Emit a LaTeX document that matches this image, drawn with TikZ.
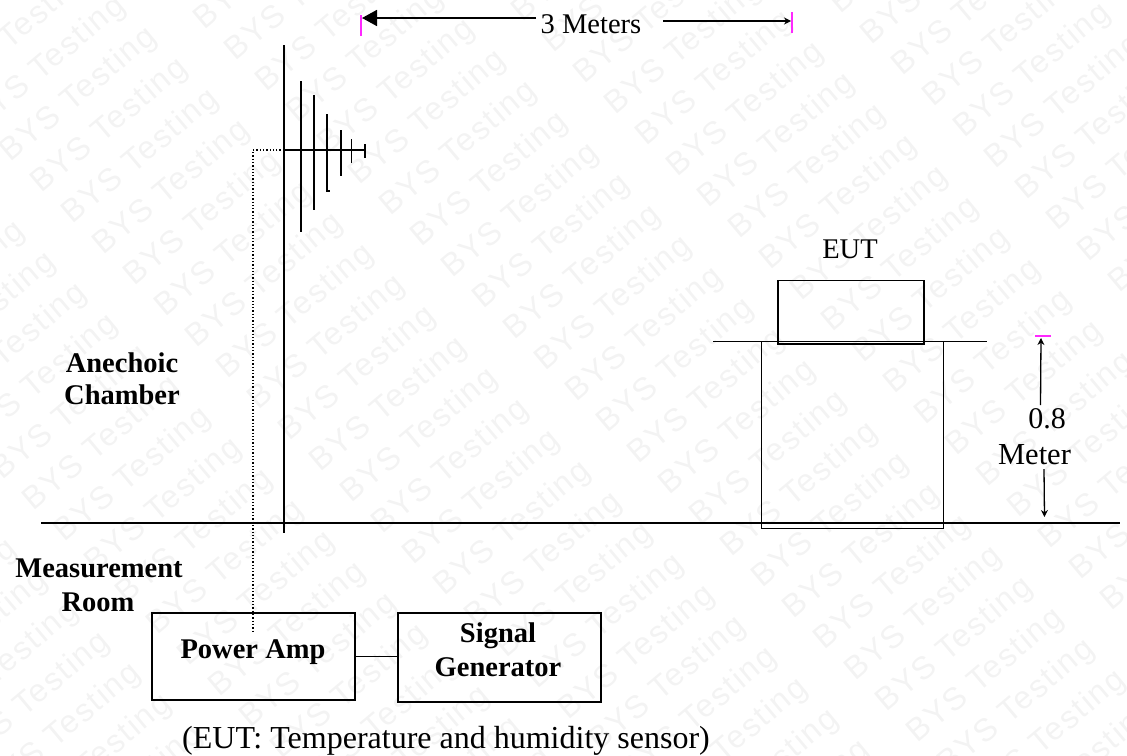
\documentclass[tikz,border=0pt]{standalone}
\usepackage{fontspec}
\setmainfont{Liberation Serif}
\newfontfamily\wmfont[LetterSpace=6]{Liberation Sans}
\usetikzlibrary{arrows.meta}
\definecolor{tickc}{RGB}{255,40,255}
\definecolor{wmc}{RGB}{243,243,243}
\tikzset{
  x=1pt,y=-1pt,
  wm/.style={text=wmc,rotate=40,inner sep=0pt,anchor=center,font=\wmfont\fontsize{32}{32}\selectfont},
  lab/.style={inner sep=0pt,anchor=base,font=\fontsize{28.5}{28.5}\selectfont},
  blab/.style={inner sep=0pt,anchor=base,font=\bfseries\fontsize{28.5}{28.5}\selectfont},
  boxn/.style={draw=black,line width=1.7pt,inner sep=0pt,anchor=north west},
  ant/.style={line width=2.4pt,black},
  antt/.style={line width=1.5pt,black},
  tick/.style={draw=tickc,line width=1.5pt},
  dim/.style={line width=1.3pt,-{Stealth[length=7pt,width=7pt]}},
  gnd/.style={line width=2pt,black},
}
\begin{document}
\begin{tikzpicture}
\useasboundingbox (0,0) rectangle (1127,755);
\begin{scope}
\clip (0,0) rectangle (1127,755);
\foreach \i in {-26,...,26}{
  \foreach \j in {-6,...,6}{
    \pgfmathsetmacro{\wx}{490+31*\i+163*\j}
    \pgfmathsetmacro{\wy}{180+31*\i-163*\j}
    \pgfmathtruncatemacro{\wok}{and(and(\wx>-90,\wx<1217),and(\wy>-70,\wy<825))}
    \ifnum\wok=1
      \node[wm] (w\i x\j) at (\wx,\wy) {BYS Testing};
    \fi
  }
}
\end{scope}

% top dimension
\coordinate (tl) at (361,15); \coordinate (tlb) at (361,36);
\coordinate (tr) at (792,12); \coordinate (trb) at (792,33);
\draw[tick] (tl) -- (tlb);
\draw[tick] (tr) -- (trb);
\node[lab] (three) at (591,33) {3 Meters};
\coordinate (al) at (536,18); \coordinate (alt) at (362,18);
\draw[line width=1.7pt,-{Triangle[length=15pt,width=16pt]}] (al) -- (alt);
\coordinate (ar) at (663,21); \coordinate (art) at (791,21);
\draw[dim] (ar) -- (art);

% mast and antenna
\coordinate (mt) at (284,45); \coordinate (mb) at (284,533);
\draw[ant] (mt) -- (mb);
\coordinate (boom) at (284,150); \coordinate (boomend) at (365,150);
\draw[ant] (boom) -- (boomend);
\draw[ant] (301,81) -- (301,232);
\draw[ant] (314,95) -- (314,210);
\draw[antt] (327,114) -- (327,191) -- (330,191);
\draw[ant] (341,130) -- (341,176);
\draw[antt] (351.5,139) -- (351.5,163);
\draw[antt] (365,144) -- (365,158);

% ground
\coordinate (gl) at (41,523); \coordinate (gr) at (1120,523);
\draw[gnd] (gl) -- (gr);

% table and EUT
\node[boxn,line width=1.4pt,minimum width=182pt,minimum height=187pt] (table) at (761,341) {};
\coordinate (tbl) at (713,341.5); \coordinate (tbr) at (987,341.5);
\draw[line width=1.4pt] (tbl) -- (tbr);
\node[boxn,line width=1.5pt,minimum width=146pt,minimum height=63pt] (eut) at (777,279.5) {};
\draw[line width=1.9pt] (eut.south west) -- (eut.south east);
\node[lab] (eutl) at (850,258) {EUT};

% height dimension
\draw[tick] (1035,336) -- (1051,336);
\node[lab,font=\fontsize{30}{30}\selectfont] (h1) at (1047,428) {0.8};
\node[lab,font=\fontsize{30.5}{30.5}\selectfont] (h2) at (1034.5,464) {Meter};
\coordinate (u1) at (1040.5,405); \coordinate (u2) at (1041,338);
\draw[dim] (u1) -- (u2);
\coordinate (d1) at (1044,469); \coordinate (d2) at (1044.5,517);
\draw[dim] (d1) -- (d2);

% boxes
\node[boxn,minimum width=203pt,minimum height=87pt] (pa) at (151,612) {};
\node[boxn,minimum width=203pt,minimum height=89pt] (sg) at (397,612) {};
\draw[line width=1.6pt] (pa.east) -- (pa.east -| sg.west);
\node[blab] (pal) at (253,658) {Power Amp};
\node[blab] (sg1) at (498,642) {Signal};
\node[blab] (sg2) at (498,676) {Generator};

\coordinate (dc) at (253,150); \coordinate (de) at (253,632);
\draw[line width=1.3pt,dotted] (boom) -- (dc) -- (de);

% room labels
\node[blab] (an1) at (122,372) {Anechoic};
\node[blab] (an2) at (122,404) {Chamber};
\node[blab] (me1) at (99,577) {Measurement};
\node[blab] (me2) at (98,611) {Room};
\node[lab,anchor=base west,font=\fontsize{32}{32}\selectfont] (note) at (182,748) {(EUT: Temperature and humidity sensor)};
\end{tikzpicture}
\end{document}
